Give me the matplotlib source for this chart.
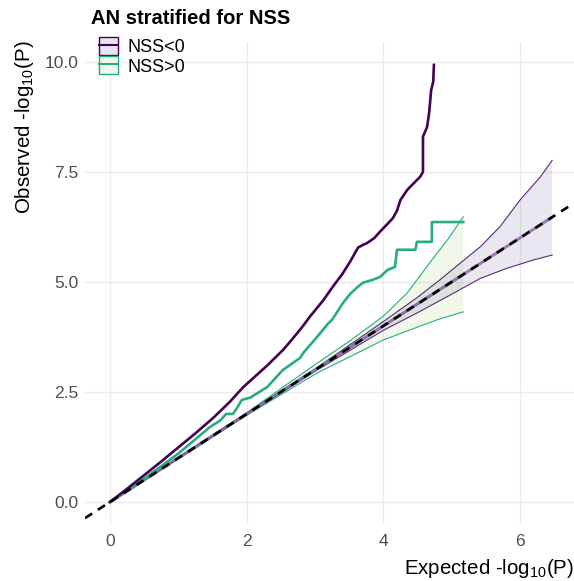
import numpy as np
import matplotlib
matplotlib.use('Agg')
import matplotlib.pyplot as plt
from matplotlib.patches import Patch
from matplotlib.lines import Line2D

plt.rcParams['font.family'] = ['Liberation Sans', 'DejaVu Sans']

# observed -log10(P), NSS<0
neg_x = [0, 0.25, 0.5, 0.75, 1.0, 1.25, 1.51, 1.75, 1.95, 2.05, 2.30, 2.53, 2.64, 2.80,
         2.93, 3.12, 3.26, 3.40, 3.51, 3.63, 3.70, 3.76, 3.87, 3.95, 4.05, 4.14, 4.20,
         4.25, 4.35, 4.45, 4.54, 4.58, 4.58, 4.64, 4.67, 4.70, 4.73, 4.74]
neg_y = [0, 0.3, 0.61, 0.92, 1.24, 1.56, 1.91, 2.27, 2.61, 2.75, 3.10, 3.45, 3.65, 3.95,
         4.22, 4.58, 4.89, 5.18, 5.45, 5.78, 5.84, 5.88, 6.0, 6.14, 6.3, 6.45, 6.62,
         6.86, 7.09, 7.25, 7.39, 7.5, 8.3, 8.52, 8.84, 9.36, 9.55, 9.93]

# observed -log10(P), NSS>0
pos_x = [0, 0.5, 1.0, 1.46, 1.61, 1.70, 1.80, 1.86, 1.93, 2.05, 2.30, 2.53, 2.78, 2.83,
         3.03, 3.19, 3.25, 3.40, 3.51, 3.62, 3.70, 3.85, 3.95, 4.06, 4.17, 4.20, 4.47,
         4.49, 4.71, 4.71, 5.17]
pos_y = [0, 0.53, 1.1, 1.7, 1.85, 2.0, 2.0, 2.14, 2.32, 2.37, 2.61, 3.0, 3.27, 3.39,
         3.75, 4.05, 4.14, 4.5, 4.72, 4.88, 4.98, 5.05, 5.11, 5.27, 5.34, 5.73, 5.73,
         5.91, 5.91, 6.36, 6.36]

# confidence bands
neg_up_x = [0, 3.0, 4.0, 4.5, 4.83, 5.12, 5.42, 5.71, 6.0, 6.3, 6.47]
neg_up_y = [0, 3.02, 4.1, 4.65, 5.05, 5.42, 5.8, 6.26, 6.86, 7.39, 7.76]
neg_lo_x = [0, 3.0, 4.0, 4.5, 5.0, 5.42, 5.81, 6.2, 6.47]
neg_lo_y = [0, 2.97, 3.9, 4.3, 4.72, 5.08, 5.31, 5.5, 5.61]

pos_up_x = [0, 2.0, 3.0, 3.5, 4.0, 4.35, 4.71, 4.95, 5.17]
pos_up_y = [0, 2.03, 3.12, 3.65, 4.22, 4.75, 5.5, 5.98, 6.48]
pos_lo_x = [0, 2.0, 3.03, 3.51, 4.0, 4.39, 4.79, 5.17]
pos_lo_y = [0, 1.97, 2.93, 3.3, 3.68, 3.91, 4.14, 4.32]

# expected line extents
neg_exp = [0, 6.47]
pos_exp = [0, 5.17]

purple = '#440154'
green = '#27AD81'

fig = plt.figure(figsize=(5.74, 5.81), dpi=100)
ax = fig.add_axes([85/574, 57/581, 489/574, 482/581])

# bands
ax.fill(np.r_[pos_up_x, pos_lo_x[::-1]], np.r_[pos_up_y, pos_lo_y[::-1]],
        color='#9ACD5A', alpha=0.13, lw=0)
ax.fill(np.r_[neg_up_x, neg_lo_x[::-1]], np.r_[neg_up_y, neg_lo_y[::-1]],
        color='#5A4A8A', alpha=0.13, lw=0)
ax.plot(pos_up_x, pos_up_y, color=green, lw=0.8)
ax.plot(pos_lo_x, pos_lo_y, color=green, lw=0.8)
ax.plot(neg_up_x, neg_up_y, color='#5B2A7E', lw=0.8)
ax.plot(neg_lo_x, neg_lo_y, color='#5B2A7E', lw=0.8)
ax.plot(pos_exp, pos_exp, color=green, lw=2, alpha=0.5)
ax.plot(neg_exp, neg_exp, color='#8E5FA8', lw=2.2, alpha=0.8)

# observed
ax.plot(pos_x, pos_y, color=green, lw=1.9)
ax.plot(neg_x, neg_y, color=purple, lw=1.9)

ax.axline((0, 0), slope=1, color='black', lw=1.9, ls=(0, (3.2, 2.6)))

ax.set_xlim(-0.366, 6.79)
ax.set_ylim(-0.5, 10.45)
ax.set_xticks([0, 2, 4, 6])
ax.set_yticks([0, 2.5, 5, 7.5, 10])
ax.set_yticklabels(['0.0', '2.5', '5.0', '7.5', '10.0'])
ax.tick_params(length=0, labelsize=12.5, colors='#4D4D4D', pad=7)
ax.tick_params(axis='y', pad=4.5)
ax.grid(True, color='#EBEBEB', lw=1)
ax.set_axisbelow(True)
for s in ax.spines.values():
    s.set_visible(False)

fig.text(1.0, 1 - 569/581, r'Expected -log$_{\mathregular{10}}$(P)', ha='right', va='center', size=14.8)
fig.text(25/574, 1 - 40/581, r'Observed -log$_{\mathregular{10}}$(P)', ha='center', va='top',
         rotation=90, size=14.8)
fig.text(91/574, 1 - 18/581, 'AN stratified for NSS', ha='left', va='center', size=14.5,
         weight='bold')

handles = [(Patch(fc='#E9E4EF', ec=purple, lw=1), Line2D([], [], color=purple, lw=1.5)),
           (Patch(fc='#F1F8EA', ec=green, lw=1), Line2D([], [], color=green, lw=1.5))]
fig.legend(handles, ['NSS<0', 'NSS>0'], loc='upper left', bbox_to_anchor=(99/574, 1 - 37/581),
           frameon=False, fontsize=13, handlelength=1.05, handleheight=1.15,
           labelspacing=0.02, handletextpad=0.55, borderpad=0, borderaxespad=0)

fig.savefig('out.png', dpi=100)
